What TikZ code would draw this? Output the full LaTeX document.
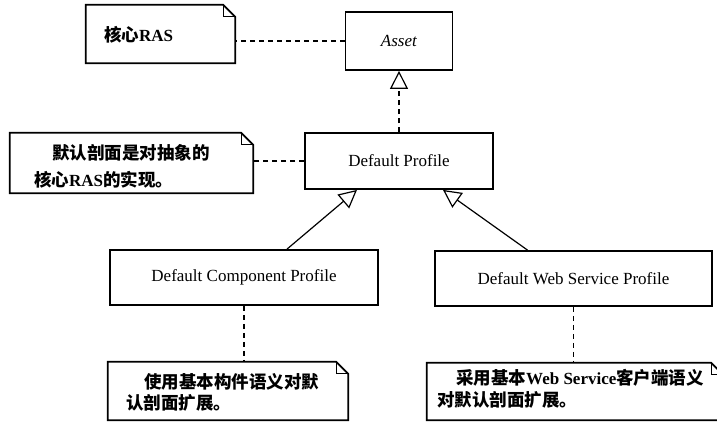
\documentclass[tikz,border=0pt]{standalone}
\usepackage{fontspec}
\setmainfont{Liberation Serif}
\newfontfamily\cjkfont{Noto Sans CJK SC}
\usetikzlibrary{arrows.meta,calc}
\newcommand{\zh}[1]{{\cjkfont\fontsize{17.5}{20}\selectfont\bfseries #1}}
% UML note outline with a folded top-right corner
\newcommand{\notefold}[1]{%
  \draw[noteline] (#1.north west) -- ($(#1.north east)+(-12,0)$) -- ($(#1.north east)+(0,12)$)
    -- (#1.south east) -- (#1.south west) -- cycle;
  \draw[foldline] ($(#1.north east)+(-12,0)$) -- ($(#1.north east)+(-12,12)$) -- ($(#1.north east)+(0,12)$);}
\begin{document}
\begin{tikzpicture}[x=1pt,y=-1pt,
  classbox/.style={draw, line width=1.8pt, rectangle, inner sep=0pt, font=\fontsize{17}{20}\selectfont},
  notebox/.style={rectangle, inner sep=0pt},
  noteline/.style={line width=1.8pt, line join=miter},
  foldline/.style={line width=1.2pt},
  notetext/.style={anchor=west, inner sep=0pt, font=\fontsize{17}{20}\selectfont\bfseries},
  link/.style={line width=1.3pt, dash pattern=on 5pt off 4pt},
  gen/.style={line width=1.2pt, -{Triangle[open, length=18pt, width=18pt, line width=1.2pt]}},
]
\useasboundingbox (0,0) rectangle (717,421);
\clip (0,0) rectangle (717,421);

% classes
\node[classbox, minimum width=107pt, minimum height=58pt] (asset) at (399,41) {\textit{Asset}};
\node[classbox, minimum width=188pt, minimum height=56pt] (dp) at (399,161) {Default Profile};
\node[classbox, minimum width=268pt, minimum height=55pt] (dcp) at (244,277.5) {Default Component Profile};
\node[classbox, minimum width=277pt, minimum height=55pt] (dwsp) at (573.5,278.5) {Default Web Service Profile};

% notes
\node[notebox, minimum width=149pt, minimum height=58pt] (n1) at (160.5,34) {};
\node[notebox, minimum width=243pt, minimum height=60pt] (n2) at (131.5,163) {};
\node[notebox, minimum width=240pt, minimum height=58pt] (n3) at (228,391) {};
\node[notebox, minimum width=296pt, minimum height=57pt] (n4) at (575,391.5) {};
\notefold{n1}
\notefold{n2}
\notefold{n3}
\notefold{n4}

\node[notetext] (n1a) at (104,35) {\zh{核心}RAS};
\node[notetext] (n2a) at (52,153) {\zh{默认剖面是对抽象的}};
\node[notetext] (n2b) at (34,180) {\zh{核心}RAS\zh{的实现。}};
\node[notetext] (n3a) at (144,382) {\zh{使用基本构件语义对默}};
\node[notetext] (n3b) at (126,403) {\zh{认剖面扩展。}};
\node[notetext] (n4a) at (456,378) {\zh{采用基本}Web Service\zh{客户端语义}};
\node[notetext] (n4b) at (437,400) {\zh{对默认剖面扩展。}};

% connectors
\draw[link] (asset.west) -- (asset.west -| n1.east);
\draw[link] (dp.west) -- (dp.west -| n2.east);
\draw[link, -{Triangle[open, length=18pt, width=18pt, line width=1.2pt]}] (dp.north) -- (asset.south);
\draw[gen] ([xshift=43pt]dcp.north) -- ([xshift=-42pt]dp.south);
\draw[gen] ([xshift=-46pt]dwsp.north) -- ([xshift=44pt]dp.south);
\draw[link] (dcp.south) -- (dcp.south |- n3.north);
\draw[link] (dwsp.south) -- (dwsp.south |- n4.north);
\end{tikzpicture}
\end{document}
